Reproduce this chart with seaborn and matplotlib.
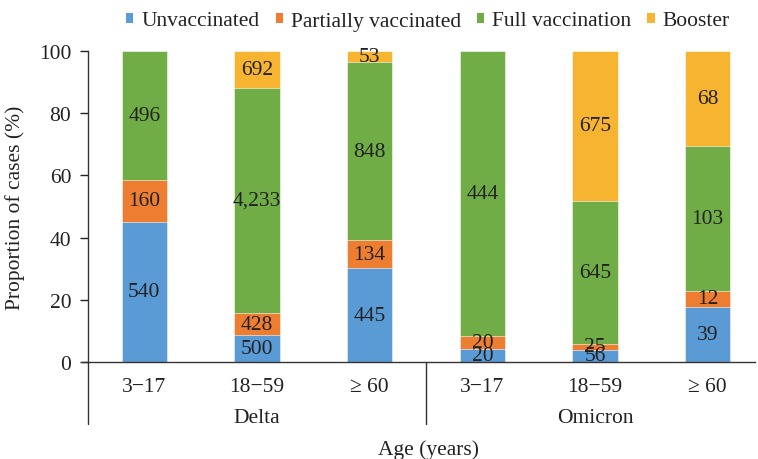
import matplotlib
matplotlib.use("Agg")
import matplotlib.pyplot as plt
from matplotlib.patches import Patch
from matplotlib.lines import Line2D
import seaborn as sns
import numpy as np
import pandas as pd

variants = ["Delta", "Delta", "Delta", "Omicron", "Omicron", "Omicron"]
ages = ["3\u221217", "18\u221259", "\u2265 60", "3\u221217", "18\u221259", "\u2265 60"]
statuses = ["Unvaccinated", "Partially vaccinated", "Full vaccination", "Booster"]
unvaccinated = [540, 500, 445, 20, 56, 39]
partially = [160, 428, 134, 20, 25, 12]
full = [496, 4233, 848, 444, 645, 103]
booster = [0, 692, 53, 0, 675, 68]
colors = ["#5B9BD5", "#ED7D31", "#70AD47", "#F6B431"]

sns.set_theme(style="white")
plt.rcParams["font.family"] = ["Liberation Serif", "DejaVu Serif"]

counts = np.array([unvaccinated, partially, full, booster], dtype=float)
totals = counts.sum(axis=0)
pct = counts / totals * 100
cum = np.cumsum(pct, axis=0)
keys = [f"{v} {a}" for v, a in zip(variants, ages)]

fig = plt.figure(figsize=(7.58, 4.6), dpi=100)
ax = fig.add_axes([88 / 758, 1 - 363 / 460, (755 - 88) / 758, (363 - 52) / 460])

fs = 15.5
# draw cumulative from top layer down
for i in range(3, -1, -1):
    df = pd.DataFrame({"key": keys, "val": cum[i]})
    sns.barplot(data=df, x="key", y="val", order=keys, color=colors[i],
                width=0.4, ax=ax, saturation=1, edgecolor="white", linewidth=0.4)

for i in range(4):
    for j in range(6):
        c = counts[i, j]
        if c <= 0:
            continue
        y = cum[i, j] - pct[i, j] / 2
        ax.text(j, y, f"{int(c):,}", ha="center", va="center", fontsize=fs, color="#222222")

ax.set_xlim(-0.5, 5.42)
ax.set_ylim(0, 100)
ax.set_yticks([0, 20, 40, 60, 80, 100])
ax.set_xticks(range(6))
ax.set_xticklabels(ages)
ax.tick_params(axis="y", length=6, width=1, direction="out", left=True, labelsize=fs, colors="#222222", pad=6)
ax.tick_params(axis="x", length=0, labelsize=fs, colors="#222222", pad=11)
ax.set_xlabel("")
ax.set_ylabel("Proportion of cases (%)", fontsize=fs, color="#222222", labelpad=10)
for s in ["top", "right"]:
    ax.spines[s].set_visible(False)
for s in ["left", "bottom"]:
    ax.spines[s].set_color("#333333")
    ax.spines[s].set_linewidth(1)

# group separators below axis
trans = ax.get_xaxis_transform()
for xpos in [-0.5, 2.5]:
    ax.add_line(Line2D([xpos, xpos], [0, -0.2], transform=trans, color="#333333", lw=1, clip_on=False))
ax.add_line(Line2D([-0.555, -0.5], [0, 0], transform=trans, color="#333333", lw=1, clip_on=False))
ax.text(1, -0.18, "Delta", transform=trans, ha="center", va="center", fontsize=fs, color="#222222")
ax.text(4, -0.18, "Omicron", transform=trans, ha="center", va="center", fontsize=fs, color="#222222")
fig.text(428 / 758, 1 - 450 / 460, "Age (years)", ha="center", va="center", fontsize=fs, color="#222222")

handles = [Patch(facecolor=c, edgecolor="none") for c in colors]
fig.legend(handles, statuses, loc="center", bbox_to_anchor=(428 / 758, 1 - 22 / 460), ncol=4,
           frameon=False, fontsize=fs, handlelength=0.33, handleheight=0.33, handletextpad=0.37,
           columnspacing=0.75, labelcolor="#222222", borderpad=0.2)

fig.savefig("out.png", dpi=100)
